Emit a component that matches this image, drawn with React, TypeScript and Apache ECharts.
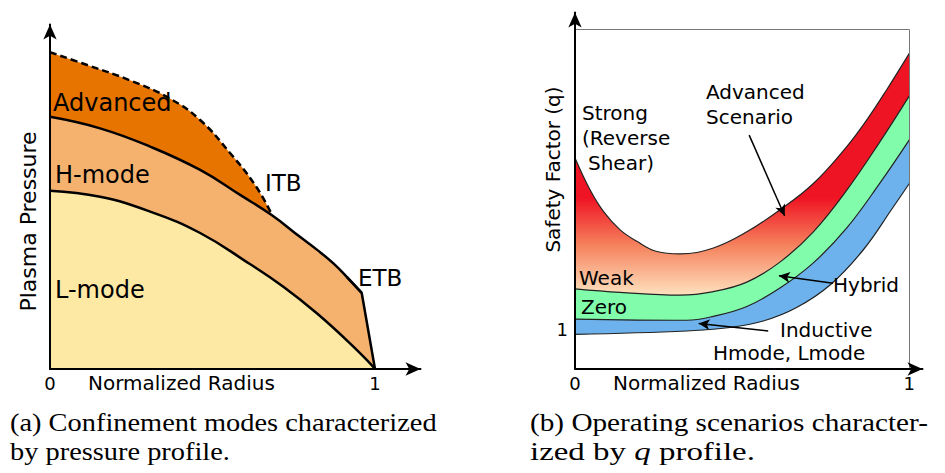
import React, { useEffect, useRef } from 'react';
import * as echarts from 'echarts';

// ---------- Panel (a): plasma pressure vs normalized radius ----------
const advancedX = [0, 0.123, 0.246, 0.369, 0.462, 0.554, 0.631, 0.682];
const advancedY = [0.99, 0.947, 0.902, 0.845, 0.778, 0.675, 0.575, 0.484];
const hmodeX = [0, 0.154, 0.308, 0.462, 0.585, 0.682, 0.769, 0.821, 0.872, 0.913, 0.959];
const hmodeY = [0.788, 0.752, 0.695, 0.622, 0.544, 0.481, 0.413, 0.373, 0.33, 0.288, 0.238];
const etbX = [0.913, 0.959, 1];
const etbY = [0.288, 0.238, 0];
const lmodeX = [0, 0.154, 0.308, 0.462, 0.615, 0.718, 0.821, 0.923, 1];
const lmodeY = [0.557, 0.538, 0.492, 0.425, 0.328, 0.257, 0.174, 0.08, 0];

// ---------- Panel (b): safety factor q vs normalized radius ----------
const strongX = [0, 0.045, 0.085, 0.135, 0.185, 0.245, 0.314, 0.414, 0.514, 0.613, 0.713, 0.813, 0.873, 0.932, 1];
const strongY = [5.37, 4.56, 4.01, 3.54, 3.25, 2.99, 2.93, 3.08, 3.49, 4.05, 4.72, 5.66, 6.34, 7.1, 8.03];
const weakX = [0, 0.135, 0.314, 0.414, 0.514, 0.613, 0.713, 0.813, 0.912, 1];
const weakY = [2.04, 1.95, 1.88, 1.97, 2.21, 2.72, 3.49, 4.55, 5.78, 6.95];
const zeroX = [0, 0.334, 0.414, 0.514, 0.613, 0.713, 0.813, 0.912, 1];
const zeroY = [1.27, 1.24, 1.34, 1.59, 2.06, 2.7, 3.59, 4.73, 5.83];
const inductiveX = [0, 0.334, 0.464, 0.563, 0.663, 0.763, 0.862, 0.952, 1];
const inductiveY = [0.88, 0.967, 1.056, 1.221, 1.565, 2.137, 3.028, 4.122, 4.72];
const xTickLabels = ['0', '1'];
const qTickLabels = ['1'];
const boxTopQ = 8.64;

// annotation arrows (data coords of panel b): [from, to]
const advancedArrow = [[0.521, 5.95], [0.627, 3.9]];
const hybridArrow = [[0.772, 2.18], [0.61, 2.37]];
const inductiveArrow = [[0.578, 0.967], [0.37, 1.16]];

const SANS = 'DejaVu Sans';
const SERIF = 'Liberation Serif';

const pairs = (xs: number[], ys: number[]) => xs.map((x, i) => [x, ys[i]]);

function measure(text: string, font: string) {
  const c = document.createElement('canvas').getContext('2d')!;
  c.font = font;
  return c.measureText(text).width;
}

export default function App() {
  const ref = useRef<HTMLDivElement>(null);
  useEffect(() => {
    const chart = echarts.init(ref.current!, undefined, { renderer: 'svg' });

    const axisLine = (show: boolean) => ({
      show,
      symbol: ['none', 'arrow'],
      symbolSize: [10, 15],
      lineStyle: { color: '#000', width: 2 },
    });
    const xLabel = {
      fontSize: 18,
      fontFamily: SANS,
      color: '#000',
      margin: 5,
      formatter: (v: number) => (xTickLabels.includes(String(v)) ? String(v) : ''),
    };

    const bandLeft = (name: string, xs: number[], ys: number[], color: string, extra: any = {}) => ({
      type: 'line',
      name,
      xAxisIndex: 0,
      yAxisIndex: 0,
      data: pairs(xs, ys),
      smooth: extra.smooth !== undefined ? extra.smooth : 0.45,
      symbol: 'none',
      silent: true,
      lineStyle: { color: '#000', width: 2.5, ...(extra.lineStyle || {}) },
      areaStyle: { color, opacity: 1, origin: 'start' },
    });
    const bandRight = (name: string, xs: number[], ys: number[], color: any) => ({
      type: 'line',
      name,
      xAxisIndex: 1,
      yAxisIndex: 1,
      data: pairs(xs, ys),
      smooth: 0.4,
      symbol: 'none',
      silent: true,
      lineStyle: { color: '#222', width: 1.2 },
      areaStyle: { color, opacity: 1, origin: 'start' },
    });

    const redGrad = new echarts.graphic.LinearGradient(0, 198, 0, 294, [
      { offset: 0, color: '#EF1423' },
      { offset: 0.5, color: '#F5835E' },
      { offset: 1, color: '#FEDFBC' },
    ], true);

    const arrowLine = (seg: number[][]) => [{ coord: seg[0] }, { coord: seg[1] }];

    const txt = (text: string, x: number, y: number, size: number, extra: any = {}) => ({
      type: 'text',
      x,
      y,
      z: 100,
      silent: true,
      ...extra,
      style: {
        text,
        fontSize: size,
        fontFamily: extra.family || SANS,
        fill: '#000',
        align: extra.align || 'left',
        verticalAlign: 'middle',
        textAlign: extra.align || 'left',
        textVerticalAlign: 'middle',
        ...(extra.style || {}),
      },
    });

    const capFont = `26px "${SERIF}"`;
    const cap = (text: string, x: number, y: number, target: number, measureText?: string, style?: any) => {
      const w = measure(measureText || text, capFont);
      return txt(text, x, y, 26, { family: SERIF, scaleX: target / w, style });
    };

    const option: any = {
      animation: false,
      backgroundColor: '#fff',
      grid: [
        { left: 50, top: 24.5, width: 370.5, height: 344.5 },
        { left: 575, top: 12.5, width: 347.5, height: 356.5 },
      ],
      xAxis: [
        {
          gridIndex: 0, type: 'value', min: 0, max: 370.5 / 325, interval: 1, z: 5,
          axisLine: axisLine(true), axisTick: { show: false }, splitLine: { show: false }, axisLabel: xLabel,
        },
        {
          gridIndex: 1, type: 'value', min: 0, max: 347.5 / 334.3, interval: 1, z: 5,
          axisLine: axisLine(true), axisTick: { show: false }, splitLine: { show: false }, axisLabel: xLabel,
        },
      ],
      yAxis: [
        {
          gridIndex: 0, type: 'value', min: 0, max: 344.5 / 320, interval: 0.5, z: 5,
          axisLine: axisLine(true), axisTick: { show: false }, splitLine: { show: false }, axisLabel: { show: false },
        },
        {
          gridIndex: 1, type: 'value', min: 0, max: 356.5 / 39.3, interval: 1, z: 5,
          axisLine: axisLine(true), axisTick: { show: false }, splitLine: { show: false },
          axisLabel: {
            fontSize: 18, fontFamily: SANS, color: '#000', margin: 7,
            formatter: (v: number) => (qTickLabels.includes(String(v)) ? String(v) : ''),
          },
        },
      ],
      series: [
        bandLeft('Advanced', advancedX, advancedY, '#E87400', { lineStyle: { type: [7, 4] } }),
        bandLeft('H-mode', hmodeX, hmodeY, '#F5B26F'),
        bandLeft('ETB', etbX, etbY, '#F5B26F', { smooth: false }),
        bandLeft('L-mode', lmodeX, lmodeY, '#FDE8A4'),
        bandRight('Strong', strongX, strongY, redGrad),
        bandRight('Weak', weakX, weakY, '#80FCAB'),
        bandRight('Zero', zeroX, zeroY, '#6DB2EC'),
        bandRight('Inductive', inductiveX, inductiveY, '#FFFFFF'),
        {
          type: 'line', xAxisIndex: 1, yAxisIndex: 1, data: [], silent: true,
          markLine: {
            silent: true, animation: false, symbol: ['none', 'none'], label: { show: false },
            lineStyle: { color: '#777', width: 1, type: 'solid' },
            data: [
              [{ coord: [0, boxTopQ] }, { coord: [1, boxTopQ] }],
              [{ coord: [1, 0] }, { coord: [1, boxTopQ] }],
            ],
          },
        },
        {
          type: 'line', xAxisIndex: 1, yAxisIndex: 1, data: [], silent: true, z: 10,
          markLine: {
            silent: true, animation: false, symbol: ['none', 'arrow'], symbolSize: [8, 11], label: { show: false },
            lineStyle: { color: '#000', width: 1.5, type: 'solid' },
            data: [arrowLine(advancedArrow), arrowLine(hybridArrow), arrowLine(inductiveArrow)],
          },
        },
      ],
      graphic: [
        // panel (a)
        txt('Plasma Pressure', 28, 221.5, 22, { rotation: Math.PI / 2, align: 'center' }),
        txt('Normalized Radius', 88, 383, 20),
        txt('Advanced', 53, 103, 24),
        txt('H-mode', 55, 175, 24),
        txt('L-mode', 55, 290, 24),
        txt('ITB', 265, 183, 23),
        txt('ETB', 358, 278, 23),
        // panel (b)
        txt('Safety Factor (q)', 553, 169.5, 20, { rotation: Math.PI / 2, align: 'center' }),
        txt('Normalized Radius', 613, 383, 20),
        txt('Strong', 582, 113, 20),
        txt('(Reverse', 582, 138, 20),
        txt('Shear)', 588, 163, 20),
        txt('Advanced', 706, 92, 20),
        txt('Scenario', 706, 117, 20),
        txt('Weak', 579, 278, 20),
        txt('Zero', 581, 307, 20),
        txt('Hybrid', 833, 285, 20),
        txt('Inductive', 780, 330, 20),
        txt('Hmode, Lmode', 713, 353, 20),
        // captions
        cap('(a) Confinement modes characterized', 10, 422, 427),
        cap('by pressure profile.', 10, 451, 220),
        cap('(b) Operating scenarios character-', 530, 422, 398),
        cap('ized by {q|q} profile.', 530, 451, 225, 'ized by q profile.', {
          rich: { q: { fontStyle: 'italic', fontSize: 26, fontFamily: SERIF, fill: '#000' } },
        }),
      ],
    };
    chart.setOption(option);
    return () => chart.dispose();
  }, []);
  return <div ref={ref} style={{ position: 'fixed', left: 0, top: 0, width: 945, height: 473, background: '#fff' }} />;
}
